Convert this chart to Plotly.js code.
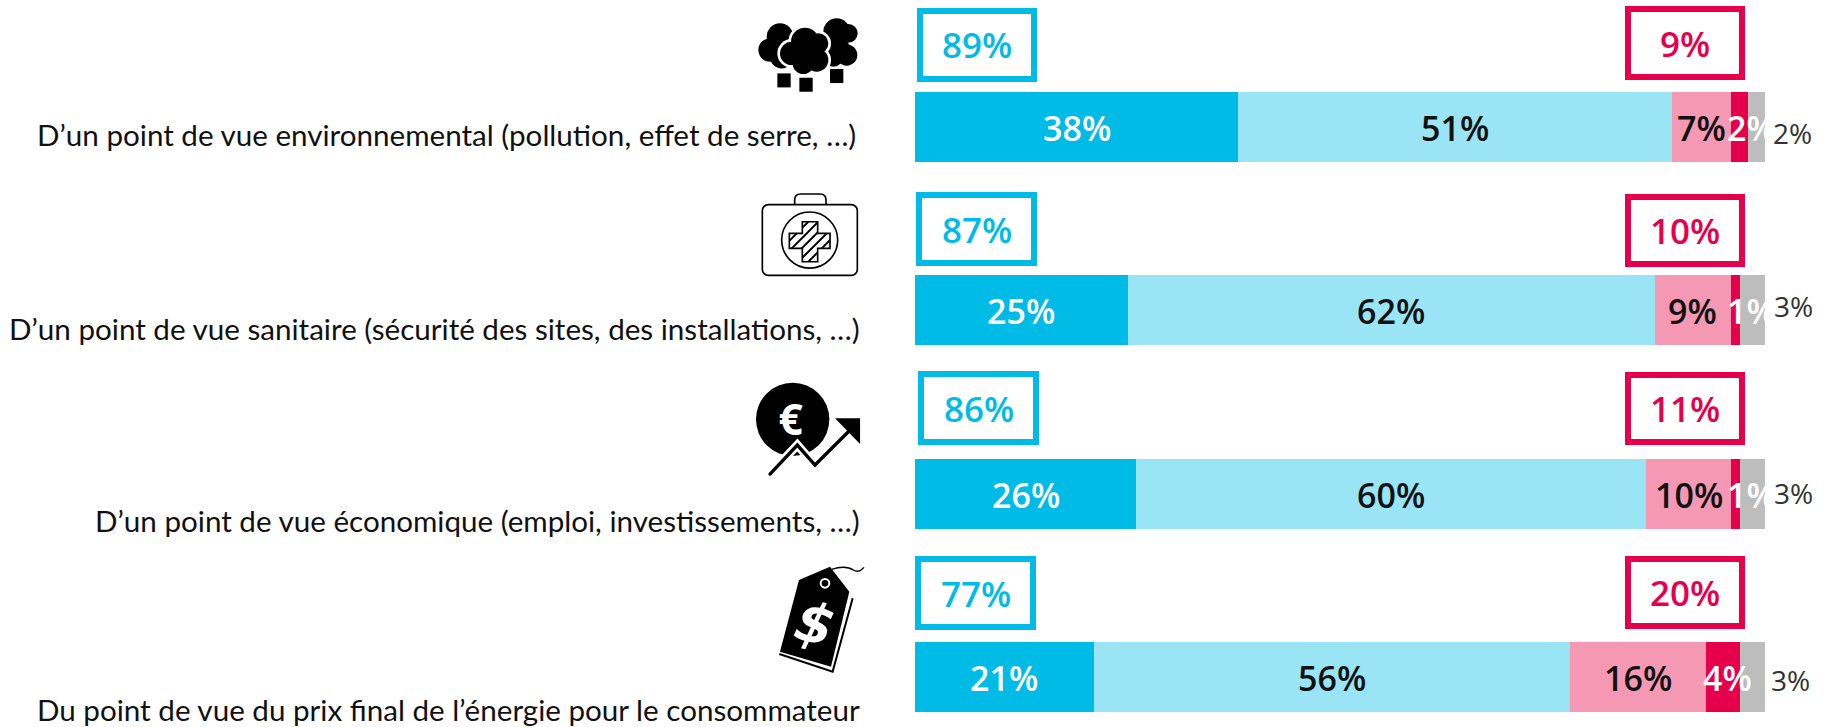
<!DOCTYPE html>
<html><head><meta charset="utf-8">
<script src="https://cdn.plot.ly/plotly-3.0.1.min.js"></script>
<style>html,body{margin:0;padding:0;background:#fff}</style></head>
<body><div id="chart" style="width:1827px;height:727px"></div>
<script>
const categories = [
 "D’un point de vue environnemental (pollution, effet de serre, …)",
 "D’un point de vue sanitaire (sécurité des sites, des installations, …)",
 "D’un point de vue économique (emploi, investissements, …)",
 "Du point de vue du prix final de l’énergie pour le consommateur"];
const tresPositif = [38,25,26,21];
const plutotPositif = [51,62,60,56];
const plutotNegatif = [7,9,10,16];
const tresNegatif = [2,1,1,4];
const nsp = [2,3,3,3];
const totalPositif = [89,87,86,77];
const totalNegatif = [9,10,11,20];

const W=1827,H=727,L=915,R=1765,C0=127,STEP=183.4;
const blueBox=[[917,1037,8,82],[916,1037,192,266],[918,1039,371,445],[915,1036,556,630]];
const redBox=[[1625,1745,6,80],[1625,1745,194,267],[1625,1745,372,445],[1625,1745,556,629]];
const labelY=[134,328,520,709], labelR=[858,862,862,862];
const redShift=[12,16,16,5], greyShift=[6,-4,-1,3], greyX=[27,28,28,25];
const px=x=>(x-L)/(R-L), py=y=>1-y/H;
const BLUE='#00BBE6',LBLUE='#99E4F5',PINK='#F598B3',RED='#E6004C',GREY='#BDBDBD';
const series=[[tresPositif,BLUE,'#fff'],[plutotPositif,LBLUE,'#111'],[plutotNegatif,PINK,'#111'],[tresNegatif,RED,'#fff'],[nsp,GREY,'#333']];
const idx=[0,1,2,3];
const traces=series.map(s=>({type:'bar',orientation:'h',y:idx,x:s[0],marker:{color:s[1],line:{width:0}},hoverinfo:'skip'}));
const anns=[],shapes=[];
const F='"Open Sans",sans-serif';
const box=(b,c)=>shapes.push({type:'rect',xref:'paper',yref:'paper',x0:px(b[0]+3),x1:px(b[1]-3),y0:py(b[3]-3),y1:py(b[2]+3),line:{color:c,width:6},layer:'above'});
const boxText=(b,t,c)=>anns.push({xref:'paper',yref:'paper',x:px((b[0]+b[1])/2),y:py((b[2]+b[3])/2),xanchor:'center',yanchor:'middle',text:t+'%',showarrow:false,font:{family:F,size:35,color:c,weight:600}});
idx.forEach(i=>{
  let cum=0;
  series.forEach((s,k)=>{
    const v=s[0][i];
    const mid=cum+v/2; cum+=v;
    if(k==4){
      anns.push({x:100,y:i,xref:'x',yref:'y',xanchor:'center',yanchor:'middle',text:v+'%',showarrow:false,xshift:greyX[i],yshift:-greyShift[i],font:{family:F,size:28,color:s[2],weight:400}});
    } else {
      anns.push({x:mid,y:i,xref:'x',yref:'y',xanchor:'center',yanchor:'middle',text:v+'%',showarrow:false,xshift:k==3?redShift[i]:0,yshift:-1,font:{family:F,size:34,color:s[2],weight:600}});
    }
  });
  box(blueBox[i],BLUE); box(redBox[i],RED);
  boxText(blueBox[i],totalPositif[i],BLUE); boxText(redBox[i],totalNegatif[i],RED);
  anns.push({xref:'paper',yref:'paper',x:px(labelR[i]),y:py(labelY[i]),xanchor:'right',yanchor:'middle',text:categories[i],showarrow:false,font:{family:'Lato,sans-serif',size:29.6,color:'#111'}});
});
const svg=(vb,s)=>'data:image/svg+xml;utf8,'+encodeURIComponent('<svg xmlns="http://www.w3.org/2000/svg" viewBox="'+vb+'" width="'+vb.split(' ')[2]+'" height="'+vb.split(' ')[3]+'">'+s+'</svg>');
const circ=(a,d,f)=>a.map(c=>'<circle cx="'+c[0]+'" cy="'+c[1]+'" r="'+(c[2]+d)+'" fill="'+f+'"/>').join('');
const mid=[[255,125,42],[215,160,35],[295,130,30],[290,180,35],[250,190,32],[255,165,45]];
const trees=svg('110 50 310 230',circ([[180,110,40],[150,150,35],[185,170,35],[190,140,40],[350,95,40],[385,100,28],[380,165,32],[340,170,30],[350,150,40]],0,'#000')+circ(mid,8,'#fff')+circ(mid,0,'#000')+'<rect x="172" y="220" width="40" height="42"/><rect x="238" y="233" width="40" height="42"/><rect x="330" y="207" width="40" height="42"/>');
const crossP='M247 665H293V700H330V745H293V785H247V745H208V700H247Z';
let hatch='';[-60,-30,0,30,60,90].forEach(o=>{hatch+='<path d="M'+(190+o)+' 800L'+(350+o)+' 640"/>';});
const kit=svg('120 575 300 260','<defs><clipPath id="c"><path d="'+crossP+'"/></clipPath></defs><g fill="none" stroke="#000" stroke-width="5"><rect x="127" y="614" width="285" height="212" rx="18"/><path d="M224 614V600q0-18 18-18h58q18 0 18 18v14"/><circle cx="269" cy="720" r="84"/><path d="'+crossP+'"/><g clip-path="url(#c)" stroke-width="6">'+hatch+'</g></g>');
const euro=svg('105 35 320 285','<circle cx="218" cy="148" r="110" fill="#000"/><path d="M150 312L232 225L285 285L385 185" fill="none" stroke="#fff" stroke-width="26"/><path d="M150 312L232 225L285 285L385 185" fill="none" stroke="#000" stroke-width="10" stroke-linecap="round"/><path d="M345 145H420V222Z" fill="#000"/><text x="212" y="195" text-anchor="middle" font-family="Open Sans" font-weight="700" font-size="128" fill="#fff">€</text>');
const tag=svg('175 585 260 325','<path d="M237 630L330 590L388 665L333 890L180 845Z" fill="#000"/><path d="M178 852L338 905L398 685" fill="none" stroke="#000" stroke-width="6"/><circle cx="315" cy="640" r="13" fill="none" stroke="#fff" stroke-width="6"/><path d="M335 598C360 590 385 590 400 600S425 600 432 592" fill="none" stroke="#000" stroke-width="4"/><text x="285" y="818" text-anchor="middle" font-family="DejaVu Sans" font-weight="700" font-style="italic" font-size="165" fill="#fff" transform="rotate(14 285 760)">$</text>');
const img=(src,x0,y0,w,h)=>({source:src,xref:'paper',yref:'paper',x:px(x0),y:py(y0),sizex:w/(R-L),sizey:h/H,sizing:'stretch',xanchor:'left',yanchor:'top',layer:'above'});
const images=[img(trees,756.7,16.7,103.3,76.7),img(kit,760,191.7,100,86.7),img(euro,755,381.7,106.7,95),img(tag,778.3,565,86.7,108.3)];
Plotly.newPlot('chart',traces,{
  width:W,height:H,barmode:'stack',bargap:1-70/STEP,showlegend:false,
  margin:{l:L,r:W-R,t:0,b:0,pad:0},paper_bgcolor:'#fff',plot_bgcolor:'#fff',
  xaxis:{range:[0,100],visible:false,fixedrange:true},
  yaxis:{range:[(H-C0)/STEP,-C0/STEP],visible:false,fixedrange:true},
  annotations:anns,shapes:shapes,images:images
},{displayModeBar:false,staticPlot:true});
</script></body></html>
